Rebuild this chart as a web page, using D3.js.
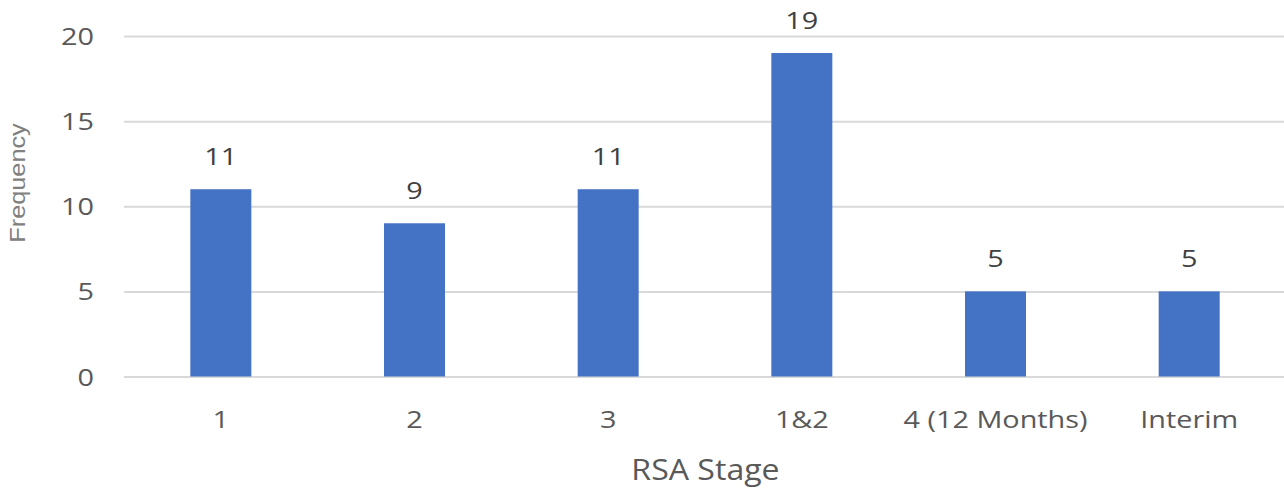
<!DOCTYPE html>
<html>
<head>
<meta charset="utf-8">
<script src="https://cdn.jsdelivr.net/npm/d3@7"></script>
<style>
  body { margin: 0; background: #fff; }
  text { font-family: 'Open Sans', sans-serif; }
</style>
</head>
<body>
<svg id="chart" width="1284" height="490"></svg>
<script>
// chart data
const stages = ['1', '2', '3', '1&2', '4 (12 Months)', 'Interim']
const frequency = [11, 9, 11, 19, 5, 5]
const yTicks = [0, 5, 10, 15, 20]

const svg = d3.select('#chart')
const margin = { top: 36, right: -2, bottom: 113.5, left: 124 }
const width = 1284 - margin.left - margin.right
const height = 490 - margin.top - margin.bottom

// the reference text is a little wider than Open Sans, so stretch it
const stretch = (x, y, s) => `translate(${x},${y}) scale(${s},1)`

const g = svg.append('g')
  .attr('id', 'graph-g')
  .attr('transform', `translate(${margin.left},${margin.top})`)

const xScale = d3.scaleBand()
  .domain(stages)
  .range([0, width])
  .paddingInner(0.685)
  .paddingOuter(0.3425)

const yScale = d3.scaleLinear()
  .domain([0, 20])
  .range([height, 0])

// gridlines
const yAxis = g.append('g')
  .attr('class', 'y axis')
  .call(d3.axisLeft(yScale).tickValues(yTicks).tickSize(-width).tickFormat(''))
yAxis.select('.domain').remove()
yAxis.selectAll('.tick line')
  .attr('stroke', '#d9d9d9')
  .attr('stroke-width', 2)

// y labels
g.append('g').attr('id', 'y-labels')
  .selectAll('text')
  .data(yTicks)
  .join('text')
  .attr('transform', d => stretch(-30, yScale(d) + 9, 1.2))
  .attr('text-anchor', 'end')
  .attr('fill', '#595959')
  .style('font-size', '24px')
  .text(d => d)

// bars
g.append('g').attr('id', 'bars')
  .selectAll('rect')
  .data(frequency)
  .join('rect')
  .attr('x', (d, i) => xScale(stages[i]))
  .attr('y', d => yScale(d))
  .attr('width', xScale.bandwidth())
  .attr('height', d => height - yScale(d))
  .attr('fill', '#4472c4')

// value labels
g.append('g').attr('id', 'labels')
  .selectAll('text')
  .data(frequency)
  .join('text')
  .attr('transform', (d, i) => stretch(xScale(stages[i]) + xScale.bandwidth() / 2, yScale(d) - 24, 1.2))
  .attr('text-anchor', 'middle')
  .attr('fill', '#404040')
  .style('font-size', '24px')
  .text(d => d)

// x labels
g.append('g').attr('id', 'x-labels')
  .selectAll('text')
  .data(stages)
  .join('text')
  .attr('transform', d => stretch(xScale(d) + xScale.bandwidth() / 2, height + 51.5, 1.2))
  .attr('text-anchor', 'middle')
  .attr('fill', '#595959')
  .style('font-size', '24px')
  .text(d => d)

// axis titles
g.append('text')
  .attr('class', 'x axis-text')
  .attr('transform', stretch(705.5 - margin.left, height + 103.5, 1.07))
  .attr('text-anchor', 'middle')
  .attr('fill', '#595959')
  .style('font-size', '30px')
  .text('RSA Stage')

g.append('text')
  .attr('class', 'y axis-text')
  .attr('transform', `translate(${25 - margin.left},${183 - margin.top}) rotate(-90) scale(1.15,1)`)
  .attr('text-anchor', 'middle')
  .attr('fill', '#808080')
  .style('font-family', "'Liberation Sans', Arial, sans-serif")
  .style('font-size', '22px')
  .text('Frequency')
</script>
</body>
</html>
